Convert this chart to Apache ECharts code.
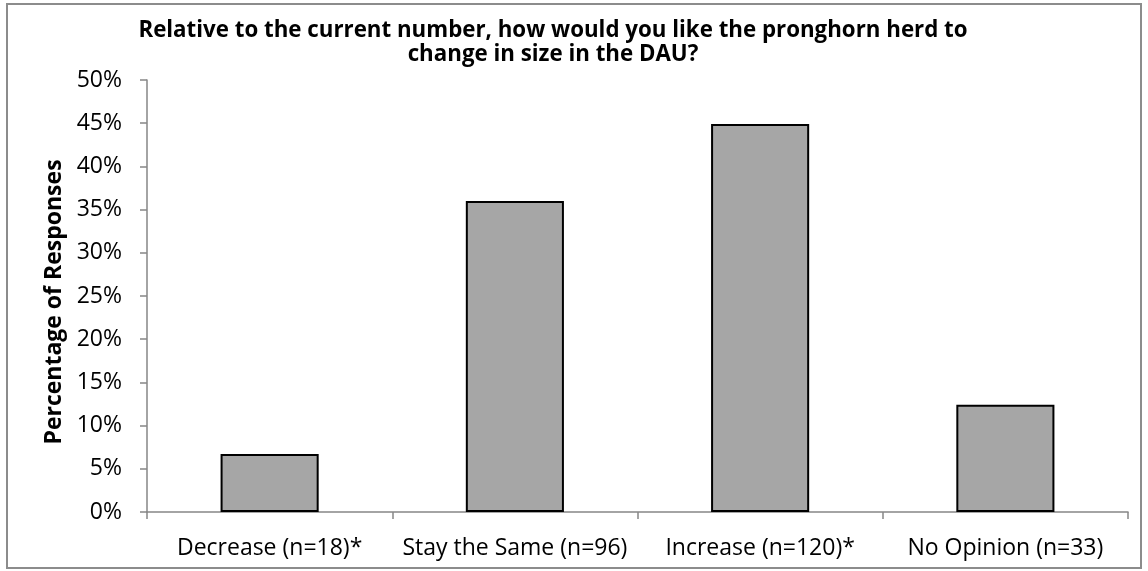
<!DOCTYPE html>
<html>
<head>
<meta charset="utf-8">
<script src="https://cdn.jsdelivr.net/npm/echarts@6/dist/echarts.min.js"></script>
<style>
html, body { margin: 0; padding: 0; background: #fff; }
#chart { width: 1148px; height: 571px; }
</style>
</head>
<body>
<div id="chart"></div>
<script>
// survey answers, share of responses in percent
const categories = ["Decrease (n=18)*", "Stay the Same (n=96)", "Increase (n=120)*", "No Opinion (n=33)"];
const percents = [6.7, 36.0, 44.9, 12.4];
const titleLines = [
  "Relative to the current number, how would you like the pronghorn herd to",
  "change in size in the DAU?"
];

const myChart = echarts.init(document.getElementById("chart"));
const fontFamily = "'Open Sans', sans-serif";
const axisColor = "#868686";

const option = {
  backgroundColor: "#fff",
  animation: false,
  title: {
    text: titleLines.join("\n"),
    left: 548,
    top: 14,
    textAlign: "center",
    textStyle: {
      fontFamily: fontFamily,
      fontSize: 22.3,
      fontWeight: "bold",
      color: "#000",
      lineHeight: 24,
    },
  },
  graphic: [
    {
      type: "rect",
      shape: { x: 7, y: 4, width: 1134, height: 564 },
      style: { fill: "none", stroke: "#8c8c8c", lineWidth: 2 },
      silent: true,
    },
  ],
  grid: {
    left: 147,
    right: 20,
    top: 80,
    bottom: 59,
  },
  xAxis: {
    type: "category",
    data: categories,
    axisLine: { show: true, lineStyle: { color: axisColor, width: 1.5 } },
    axisTick: { show: true, length: 7, lineStyle: { color: axisColor, width: 1.5 } },
    axisLabel: {
      interval: 0,
      margin: 25,
      color: "#000",
      fontFamily: fontFamily,
      fontSize: 23,
    },
    splitLine: { show: false },
  },
  yAxis: {
    type: "value",
    min: 0,
    max: 50,
    interval: 5,
    name: "Percentage of Responses",
    nameLocation: "middle",
    nameGap: 71,
    nameTextStyle: {
      fontFamily: fontFamily,
      fontSize: 23,
      fontWeight: "bold",
      color: "#000",
      padding: [0, 12, 0, 0],
    },
    axisLine: { show: true, lineStyle: { color: axisColor, width: 1.5 } },
    axisTick: { show: true, length: 7, lineStyle: { color: axisColor, width: 1.5 } },
    axisLabel: {
      margin: 25,
      color: "#000",
      fontFamily: fontFamily,
      fontSize: 23,
      formatter: (v) => v + "%",
    },
    splitLine: { show: false },
  },
  series: [
    {
      type: "bar",
      data: percents,
      barWidth: "40%",
      itemStyle: {
        color: "#a6a6a6",
        borderColor: "#000",
        borderWidth: 2,
      },
    },
  ],
};
option && myChart.setOption(option);
</script>
</body>
</html>
